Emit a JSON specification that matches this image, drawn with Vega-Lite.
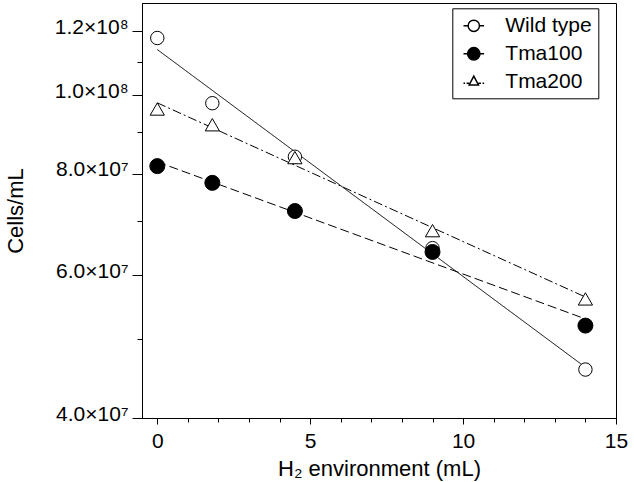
{
  "$schema": "https://vega.github.io/schema/vega-lite/v6.json",
  "autosize": "none",
  "padding": {"left": 142, "top": 3, "right": 18, "bottom": 64},
  "width": 474,
  "height": 415,
  "background": "white",
  "config": {
    "font": "Liberation Sans",
    "view": {"stroke": "black", "strokeWidth": 1},
    "axis": {"grid": false, "domainColor": "black", "tickColor": "black", "labelColor": "black", "titleColor": "black", "titleFontWeight": "normal", "domainWidth": 1, "tickWidth": 1}
  },
  "datasets": {
    "points": [
      {"series": "Wild type", "x": 0, "y": 117700000},
      {"series": "Wild type", "x": 1.8, "y": 97800000},
      {"series": "Wild type", "x": 4.5, "y": 84000000},
      {"series": "Wild type", "x": 9, "y": 64800000},
      {"series": "Wild type", "x": 14, "y": 45900000},
      {"series": "Tma100", "x": 0, "y": 81800000},
      {"series": "Tma100", "x": 1.8, "y": 78000000},
      {"series": "Tma100", "x": 4.5, "y": 72000000},
      {"series": "Tma100", "x": 9, "y": 64100000},
      {"series": "Tma100", "x": 14, "y": 52000000},
      {"series": "Tma200", "x": 0, "y": 96200000},
      {"series": "Tma200", "x": 1.8, "y": 92000000},
      {"series": "Tma200", "x": 4.5, "y": 83800000},
      {"series": "Tma200", "x": 9, "y": 68100000},
      {"series": "Tma200", "x": 14, "y": 56100000}
    ],
    "fits": [
      {"series": "Wild type", "x": 0, "y": 113900000},
      {"series": "Wild type", "x": 14, "y": 46200000},
      {"series": "Tma100", "x": 0, "y": 82800000},
      {"series": "Tma100", "x": 14, "y": 53000000},
      {"series": "Tma200", "x": 0, "y": 97900000},
      {"series": "Tma200", "x": 14, "y": 56400000}
    ]
  },
  "resolve": {"axis": {"x": "independent", "y": "independent"}, "scale": {"shape": "independent", "fill": "independent"}},
  "layer": [
    {
      "data": {"name": "points"},
      "mark": {"type": "point", "filled": true, "stroke": "black", "strokeWidth": 1, "opacity": 1},
      "encoding": {
        "x": {"field": "x", "type": "quantitative", "scale": {"domain": [-0.5, 15], "nice": false, "zero": false}, "axis": null},
        "y": {"field": "y", "type": "quantitative", "scale": {"type": "log", "domain": [40000000, 130000000], "nice": false, "zero": false}, "axis": null},
        "shape": {"field": "series", "type": "nominal",
          "scale": {"domain": ["Wild type", "Tma100", "Tma200"], "range": [
            "M-1,0H-0.55M0.55,0H1M0.55,0A0.55,0.55,0,1,1,-0.55,0A0.55,0.55,0,1,1,0.55,0Z",
            "M-1,0H-0.6M0.6,0H1M0.6,0A0.6,0.6,0,1,1,-0.6,0A0.6,0.6,0,1,1,0.6,0Z",
            "M-1,0.15H-0.85M-0.7,0.15H-0.45M0.45,0.15H0.7M0.85,0.15H1M0,-0.55L-0.45,0.3L0.45,0.3Z"]},
          "legend": {
            "orient": "none", "legendX": 310.3, "legendY": 5.3, "title": null,
            "symbolSize": 424,
            "labelFontSize": 21, "labelOffset": 20, "rowPadding": 6, "padding": 6, "symbolOffset": 4,
            "strokeColor": "black", "fillColor": "white", "labelColor": "black"
          }},
        "fill": {"field": "series", "type": "nominal", "scale": {"domain": ["Wild type", "Tma100", "Tma200"], "range": ["white", "black", "white"]}}
      }
    },
    {
      "data": {"name": "fits"},
      "mark": {"type": "line", "color": "black", "strokeWidth": 1},
      "encoding": {
        "x": {"field": "x", "type": "quantitative", "scale": {"domain": [-0.5, 15], "nice": false, "zero": false},
          "axis": {
            "orient": "bottom",
            "values": [0, 5, 10, 15],
            "tickSize": 6,
            "labelFontSize": 21, "labelPadding": 6, "labelFlush": false, "labelOverlap": false,
            "title": "H₂ environment (mL)", "titleFontSize": 22, "titleBaseline": "alphabetic", "titleY": 57
          }},
        "y": {"field": "y", "type": "quantitative", "scale": {"type": "log", "domain": [40000000, 130000000], "nice": false, "zero": false},
          "axis": {
            "orient": "left",
            "values": [40000000, 60000000, 80000000, 100000000, 120000000],
            "tickSize": 10,
            "labelExpr": "datum.value < 100000000 ? format(datum.value / 10000000, '.1f') + '×10⁷' : format(datum.value / 100000000, '.1f') + '×10⁸'",
            "labelFontSize": 21, "labelPadding": 4, "labelBaseline": "alphabetic", "labelOffset": 2, "labelOverlap": false,
            "title": "Cells/mL", "titleFontSize": 22, "titleBaseline": "middle", "titleX": -127
          }},
        "strokeDash": {"field": "series", "type": "nominal", "scale": {"domain": ["Tma100", "Tma200", "Wild type"], "range": [[9, 4], [9, 3, 2, 3], [1, 0]]}, "legend": null}
      }
    },
    {
      "data": {"name": "points"},
      "mark": {"type": "point", "filled": true, "stroke": "black", "strokeWidth": 1, "opacity": 1},
      "encoding": {
        "x": {"field": "x", "type": "quantitative", "scale": {"domain": [-0.5, 15], "nice": false, "zero": false},
          "axis": {"orient": "bottom", "values": [1, 2, 3, 4, 6, 7, 8, 9, 11, 12, 13, 14], "tickSize": 4, "labels": false, "domain": false, "title": null}},
        "y": {"field": "y", "type": "quantitative", "scale": {"type": "log", "domain": [40000000, 130000000], "nice": false, "zero": false},
          "axis": {"orient": "left", "values": [50000000, 70000000, 90000000, 110000000], "tickSize": 5, "labels": false, "domain": false, "title": null}},
        "shape": {"field": "series", "type": "nominal", "scale": {"domain": ["Tma100", "Tma200", "Wild type"], "range": ["circle", "triangle-up", "circle"]}, "legend": null},
        "fill": {"field": "series", "type": "nominal", "scale": {"domain": ["Tma100", "Tma200", "Wild type"], "range": ["black", "white", "white"]}, "legend": null},
        "size": {"field": "series", "type": "nominal", "scale": {"domain": ["Tma100", "Tma200", "Wild type"], "range": [225, 180, 225]}, "legend": null}
      }
    }
  ]
}
